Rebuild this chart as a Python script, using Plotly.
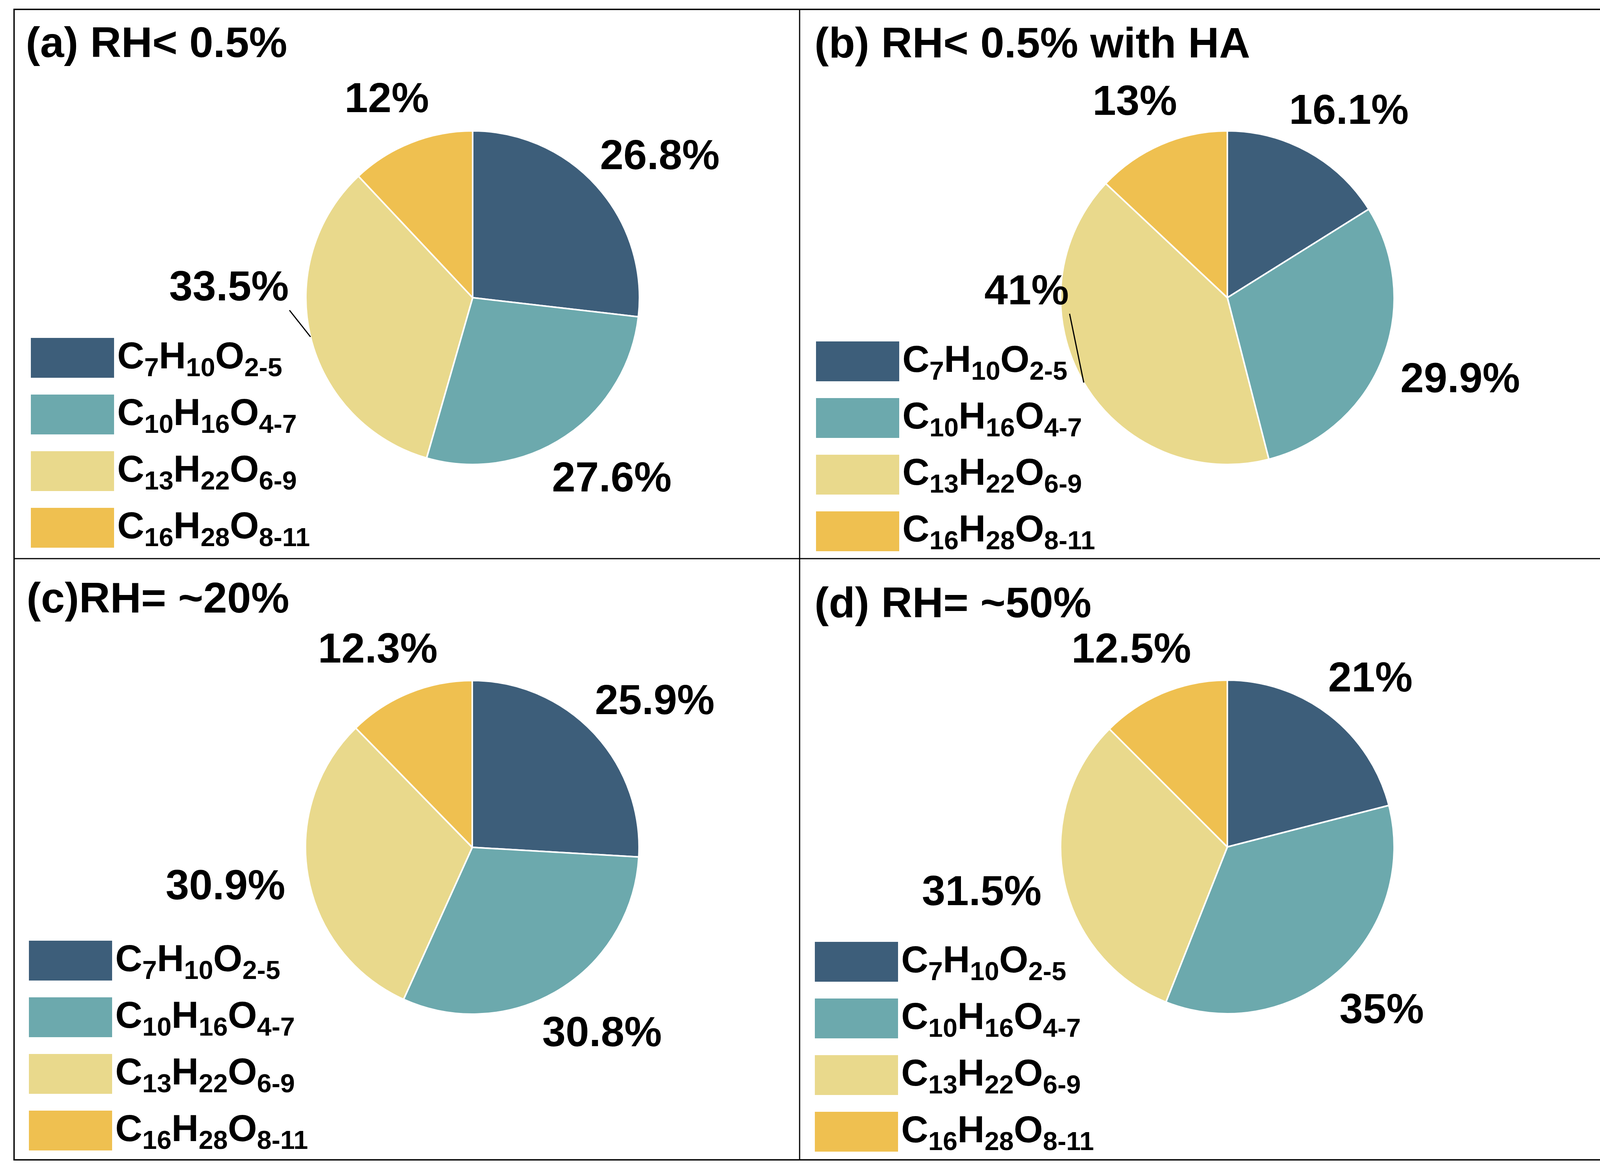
import math
import plotly.graph_objects as go

# ---------------- data ----------------
categories = ["C7H10O2-5", "C10H16O4-7", "C13H22O6-9", "C16H28O8-11"]
legend_labels = [
    "C<sub>7</sub>H<sub>10</sub>O<sub>2-5</sub>",
    "C<sub>10</sub>H<sub>16</sub>O<sub>4-7</sub>",
    "C<sub>13</sub>H<sub>22</sub>O<sub>6-9</sub>",
    "C<sub>16</sub>H<sub>28</sub>O<sub>8-11</sub>",
]
panel_titles = ["(a) RH< 0.5%", "(b) RH< 0.5% with HA", "(c)RH= ~20%", "(d) RH= ~50%"]
values_a = [26.8, 27.6, 33.5, 12]
values_b = [16.1, 29.9, 41, 13]
values_c = [25.9, 30.8, 30.9, 12.3]
values_d = [21, 35, 31.5, 12.5]
panel_values = [values_a, values_b, values_c, values_d]

colors = ["#3D5E7A", "#6CA9AD", "#E9D98C", "#EFC050"]

# ---------------- layout (pixels) ----------------
W, H = 4205, 2995
FONT = "Liberation Sans, Arial, sans-serif"
R = 427
pie_centers = [(1210, 762), (3142, 762), (1209, 2169), (3142, 2168)]
title_pos = [(64, 107), (2083, 108), (66, 1530), (2083, 1541)]
legend_origin = [(79, 865), (2089, 874), (74, 2408), (2086, 2411)]
SW, SH, SSTEP = 213, 102, 145
LEGEND_TEXT_W = 440
LABEL_F = 108
TITLE_F = 110
LEGEND_F = 96
GAP = 62

CHAR_W = {"0": .556, "1": .556, "2": .556, "3": .556, "4": .556, "5": .556,
          "6": .556, "7": .556, "8": .556, "9": .556, ".": .278, "%": .889}


def px(x):
    return x / W


def py(y):
    return 1 - y / H


fig = go.Figure()
shapes = []
annotations = []

for i, vals in enumerate(panel_values):
    cx, cy = pie_centers[i]
    fig.add_trace(go.Pie(
        values=vals, labels=categories, sort=False, direction="clockwise",
        rotation=0, marker=dict(colors=colors, line=dict(color="white", width=4)),
        textinfo="none", hoverinfo="label+value", showlegend=False,
        domain=dict(x=[px(cx - R), px(cx + R)], y=[py(cy + R), py(cy - R)]),
    ))

    # legend (manual swatches + text)
    lx, ly = legend_origin[i]
    for k in range(4):
        y0 = ly + k * SSTEP
        shapes.append(dict(type="rect", xref="paper", yref="paper",
                           x0=px(lx), x1=px(lx + SW), y0=py(y0 + SH), y1=py(y0),
                           fillcolor=colors[k], line=dict(width=0)))
        annotations.append(dict(xref="paper", yref="paper", x=px(lx + SW + 6),
                                y=py(y0 + SH / 2), xanchor="left", yanchor="middle",
                                text=legend_labels[k], showarrow=False,
                                font=dict(family=FONT, size=LEGEND_F, color="black", weight="bold")))
    leg_box = (lx, ly, lx + SW + LEGEND_TEXT_W, ly + 4 * SSTEP)

    # title
    tx, ty = title_pos[i]
    annotations.append(dict(xref="paper", yref="paper", x=px(tx), y=py(ty),
                            xanchor="left", yanchor="middle", text=panel_titles[i],
                            showarrow=False,
                            font=dict(family=FONT, size=TITLE_F, color="black", weight="bold")))

    # percentage labels outside the slices
    total = sum(vals)
    cum = 0.0
    for k, v in enumerate(vals):
        mid = (cum + v / 2) / total
        cum += v
        ang = 2 * math.pi * mid
        ux, uy = math.sin(ang), -math.cos(ang)
        txt = f"{v:g}%"
        w = sum(CHAR_W[c] for c in txt) * LABEL_F
        h = 1.15 * LABEL_F
        lxc = cx + ux * (R + GAP) + ux * w / 2
        lyc = cy + uy * (R + GAP) + uy * h / 2
        # avoid overlapping the legend block: move label up and draw a leader line
        if (lxc - w / 2 < leg_box[2] and lxc + w / 2 > leg_box[0]
                and lyc + h / 2 > leg_box[1] and lyc - h / 2 < leg_box[3]):
            lyc = leg_box[1] - 133
            sx, sy = lxc + w / 2 + 2, lyc + h / 2
            ex, ey = cx + ux * R, cy + uy * R
            shapes.append(dict(type="line", xref="paper", yref="paper",
                               x0=px(sx), y0=py(sy), x1=px(ex), y1=py(ey),
                               line=dict(color="black", width=3)))
        annotations.append(dict(xref="paper", yref="paper", x=px(lxc), y=py(lyc),
                                xanchor="center", yanchor="middle", text=txt,
                                showarrow=False,
                                font=dict(family=FONT, size=LABEL_F, color="black", weight="bold")))

# frame and dividers
shapes.append(dict(type="rect", xref="paper", yref="paper", x0=px(36), x1=px(4167),
                   y0=py(2969), y1=py(24), line=dict(color="black", width=3.5)))
shapes.append(dict(type="line", xref="paper", yref="paper", x0=px(2047), x1=px(2047),
                   y0=py(2969), y1=py(24), line=dict(color="black", width=3)))
shapes.append(dict(type="line", xref="paper", yref="paper", x0=px(36), x1=px(4167),
                   y0=py(1430), y1=py(1430), line=dict(color="black", width=3)))

fig.update_layout(
    width=W, height=H, margin=dict(l=0, r=0, t=0, b=0),
    paper_bgcolor="white", plot_bgcolor="white",
    shapes=shapes, annotations=annotations, showlegend=False,
    font=dict(family=FONT),
)

fig.write_html("out.html", post_script="document.body.style.margin='0';")
